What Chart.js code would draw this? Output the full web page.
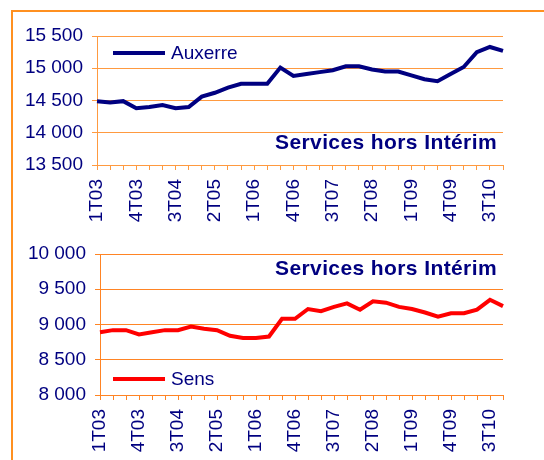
<!DOCTYPE html>
<html>
<head>
<meta charset="utf-8">
<script src="https://cdn.jsdelivr.net/npm/chart.js@4/dist/chart.umd.min.js"></script>
<style>
  body { margin: 0; background: #fff; overflow: hidden; }
  #frame { position: absolute; left: 11px; top: 10px; width: 600px; height: 600px; border: 2px solid #FF9020; }
  .box { position: absolute; left: 0; width: 544px; height: 230px; }
</style>
</head>
<body>
<div id="frame"></div>
<div class="box" style="top:0"><canvas id="auxerre"></canvas></div>
<div class="box" style="top:230px"><canvas id="sens"></canvas></div>
<script>
var quarters = ['1T03','2T03','3T03','4T03','1T04','2T04','3T04','4T04',
  '1T05','2T05','3T05','4T05','1T06','2T06','3T06','4T06',
  '1T07','2T07','3T07','4T07','1T08','2T08','3T08','4T08',
  '1T09','2T09','3T09','4T09','1T10','2T10','3T10','4T10']

var auxerre = [14490, 14470, 14490, 14380, 14400, 14430, 14380, 14400,
  14560, 14620, 14700, 14760, 14760, 14760, 15010, 14880,
  14910, 14940, 14970, 15030, 15030, 14980, 14950, 14950,
  14890, 14830, 14800, 14910, 15020, 15250, 15330, 15270]

var sens = [8890, 8920, 8920, 8860, 8890, 8920, 8920, 8970,
  8940, 8920, 8840, 8810, 8810, 8830, 9080, 9080,
  9220, 9190, 9250, 9300, 9210, 9330, 9310, 9250,
  9220, 9170, 9110, 9160, 9160, 9210, 9350, 9260]

var auxerreTicks = [13500, 15500]
var sensTicks = [8000, 10000]

var navy = '#000080'
var font = 'Liberation Sans, Arial, sans-serif'

function fmt(v) {
  return String(v).replace(/\B(?=(\d{3})+(?!\d))/g, ' ')
}

// legend + caption drawn inside the plot
function notes(legend, color, legendY, captionY) {
  return {
    id: 'notes',
    afterDraw: function(chart) {
      var ctx = chart.ctx
      ctx.save()
      ctx.strokeStyle = color
      ctx.lineWidth = 4
      ctx.beginPath()
      ctx.moveTo(113, legendY)
      ctx.lineTo(165, legendY)
      ctx.stroke()
      ctx.fillStyle = navy
      ctx.textBaseline = 'middle'
      ctx.font = '19px ' + font
      ctx.fillText(legend, 171, legendY + 1)
      ctx.font = 'bold 21px ' + font
      ctx.letterSpacing = '0.4px'
      ctx.textAlign = 'right'
      ctx.fillText('Services hors Intérim', 497, captionY)
      ctx.restore()
    }
  }
}

function makeChart(el, data, color, grid, range, left, top, legend, legendY, captionY) {
  return new Chart(document.getElementById(el), {
    type: 'line',
    data: {
      labels: quarters,
      datasets: [{
        label: legend,
        data: data,
        borderColor: color,
        borderWidth: 4,
        pointRadius: 0,
        tension: 0
      }]
    },
    options: {
      responsive: true,
      maintainAspectRatio: false,
      animation: false,
      layout: { padding: { top: top, right: 41, bottom: 0, left: 0 } },
      plugins: { legend: { display: false }, tooltip: { enabled: false } },
      scales: {
        x: {
          offset: false,
          afterFit: function(s) { s.height = 65 },
          border: { color: grid, width: 1 },
          grid: { drawOnChartArea: false, drawTicks: true, tickLength: 5, color: grid },
          ticks: {
            autoSkip: false, maxRotation: 90, minRotation: 90, padding: 9,
            color: navy, font: { family: font, size: 19 },
            callback: function(v, i) { return i % 3 === 0 ? quarters[i] : '' }
          }
        },
        y: {
          min: range[0], max: range[1],
          afterFit: function(s) { s.width = left },
          border: { color: grid, width: 1 },
          grid: { color: grid, tickLength: 5 },
          ticks: {
            stepSize: 500, padding: 9, color: navy,
            font: { family: font, size: 19 },
            callback: function(v) { return fmt(v) }
          }
        }
      }
    },
    plugins: [notes(legend, color, legendY, captionY)]
  })
}

makeChart('auxerre', auxerre, navy, '#FF9A40', auxerreTicks, 97, 36, 'Auxerre', 53, 143)
makeChart('sens', sens, '#FF0000', '#FF8424', sensTicks, 100, 24, 'Sens', 149, 39)
</script>
</body>
</html>
